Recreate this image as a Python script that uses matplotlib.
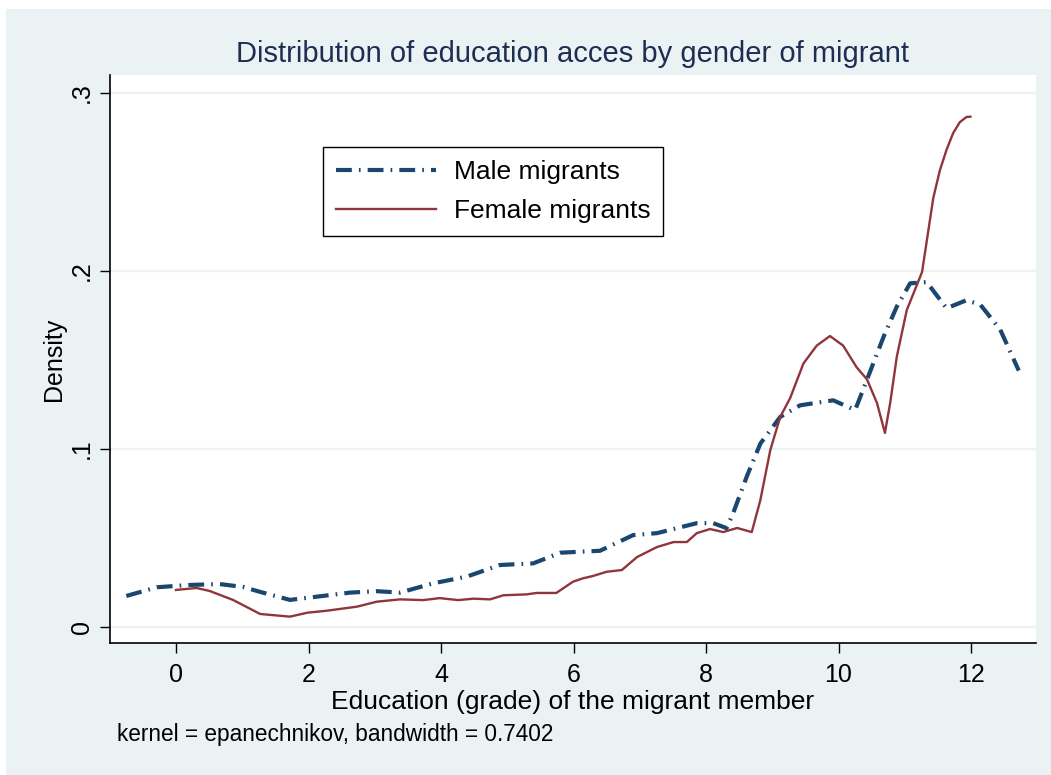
import matplotlib
matplotlib.use("Agg")
import matplotlib.pyplot as plt
from matplotlib.patches import Rectangle

plt.rcParams['font.family'] = ['Liberation Sans', 'DejaVu Sans']

# Male migrants density (education grade, density)
male_x = [-0.75, -0.29, 0.21, 0.66, 1.01, 1.27, 1.72, 2.12, 2.63, 3.03, 3.38,
          3.88, 4.39, 4.89, 5.39, 5.80, 6.40, 6.90, 7.26, 7.86, 8.11, 8.31,
          8.41, 8.62, 8.82, 9.12, 9.42, 9.92, 10.25, 10.43, 10.68, 10.88,
          11.08, 11.33, 11.63, 11.93, 12.14, 12.44, 12.72]
male_y = [0.0174, 0.0223, 0.0236, 0.0241, 0.0225, 0.0197, 0.0152, 0.0170,
          0.0193, 0.0201, 0.0193, 0.0245, 0.0283, 0.0348, 0.0357, 0.0417,
          0.0428, 0.0516, 0.0527, 0.0583, 0.0583, 0.0555, 0.0640, 0.0850,
          0.1030, 0.1180, 0.1245, 0.1273, 0.1218, 0.1390, 0.1630, 0.1800,
          0.1930, 0.1937, 0.1790, 0.1835, 0.1810, 0.1670, 0.1440]

# Female migrants density
female_x = [0.00, 0.31, 0.51, 0.86, 1.27, 1.72, 1.98, 2.27, 2.73, 3.03, 3.38,
            3.73, 3.98, 4.26, 4.49, 4.74, 4.94, 5.29, 5.44, 5.74, 5.99, 6.14,
            6.30, 6.50, 6.73, 6.96, 7.26, 7.51, 7.71, 7.86, 8.06, 8.26, 8.47,
            8.69, 8.82, 8.97, 9.12, 9.27, 9.47, 9.67, 9.87, 10.07, 10.27,
            10.43, 10.58, 10.70, 10.78, 10.88, 11.03, 11.26, 11.43, 11.53,
            11.63, 11.73, 11.83, 11.93, 11.99]
female_y = [0.0208, 0.0219, 0.0202, 0.0152, 0.0073, 0.0058, 0.0080, 0.0091,
            0.0114, 0.0142, 0.0155, 0.0151, 0.0162, 0.0151, 0.0159, 0.0155,
            0.0178, 0.0183, 0.0191, 0.0191, 0.0254, 0.0273, 0.0287, 0.0310,
            0.0320, 0.0393, 0.0449, 0.0477, 0.0477, 0.0527, 0.0550, 0.0533,
            0.0556, 0.0533, 0.0713, 0.0994, 0.1180, 0.1286, 0.1480, 0.1580,
            0.1634, 0.1580, 0.1460, 0.1390, 0.1258, 0.1090, 0.1260, 0.1520,
            0.1780, 0.1993, 0.2410, 0.2566, 0.2680, 0.2774, 0.2835, 0.2864,
            0.2866]

x_ticks = [0, 2, 4, 6, 8, 10, 12]
y_ticks = [0, 0.1, 0.2, 0.3]
y_tick_labels = ["0", ".1", ".2", ".3"]

BG = "#EAF2F3"
NAVY = "#1A476F"
MAROON = "#90353B"
TITLE = "#1E2D53"

W, H = 1051, 775
fig = plt.figure(figsize=(W / 100, H / 100), dpi=100, facecolor="white")
fig.patches.append(Rectangle((6 / W, 0), 1 - 6 / W, 1 - 9 / H,
                             transform=fig.transFigure, facecolor=BG,
                             edgecolor="none", zorder=-10))

left, right, top, bottom = 110, 1036, 75, 643
ax = fig.add_axes([left / W, 1 - bottom / H, (right - left) / W, (bottom - top) / H])
ax.set_facecolor("white")

ax.plot(male_x, male_y, color=NAVY, lw=3.0, linestyle=(0, (3.8, 1.7, 0.4, 1.7)),
        label="Male migrants", solid_capstyle="butt", dash_capstyle="butt")
ax.plot(female_x, female_y, color=MAROON, lw=1.7, label="Female migrants")

ax.set_xlim(-0.996, 12.98)
ax.set_ylim(-0.009, 0.31)

ax.set_xticks(x_ticks)
ax.set_xticklabels([str(t) for t in x_ticks])
ax.set_yticks(y_ticks)
ax.set_yticklabels(y_tick_labels, rotation=90, va="center")

for yv in y_ticks:
    ax.axhline(yv, color=BG, lw=1.6, zorder=0)

for s in ["top", "right"]:
    ax.spines[s].set_visible(False)
for s in ["left", "bottom"]:
    ax.spines[s].set_color("black")
    ax.spines[s].set_linewidth(1.2)

ax.tick_params(axis="both", direction="out", length=7.5, width=1.0,
               labelsize=18, colors="black")
ax.tick_params(axis="x", pad=7)
ax.tick_params(axis="y", pad=4)

ax.set_xlabel("Education (grade) of the migrant member", fontsize=19, labelpad=2)
ax.set_ylabel("Density", fontsize=18, labelpad=3)
ax.set_title("Distribution of education acces by gender of migrant",
             fontsize=21, color=TITLE, pad=9)

leg = ax.legend(loc="upper left", bbox_to_anchor=(0.230, 0.873), fontsize=19,
                frameon=True, fancybox=False, edgecolor="black", framealpha=1,
                handlelength=3.8, handletextpad=0.65, borderpad=0.5,
                labelspacing=0.55, borderaxespad=0)
leg.get_frame().set_linewidth(1.0)

fig.text(117 / W, 1 - 735 / H, "kernel = epanechnikov, bandwidth = 0.7402",
         fontsize=16.3, ha="left", va="center")

fig.savefig("out.png", dpi=100, facecolor=fig.get_facecolor())
